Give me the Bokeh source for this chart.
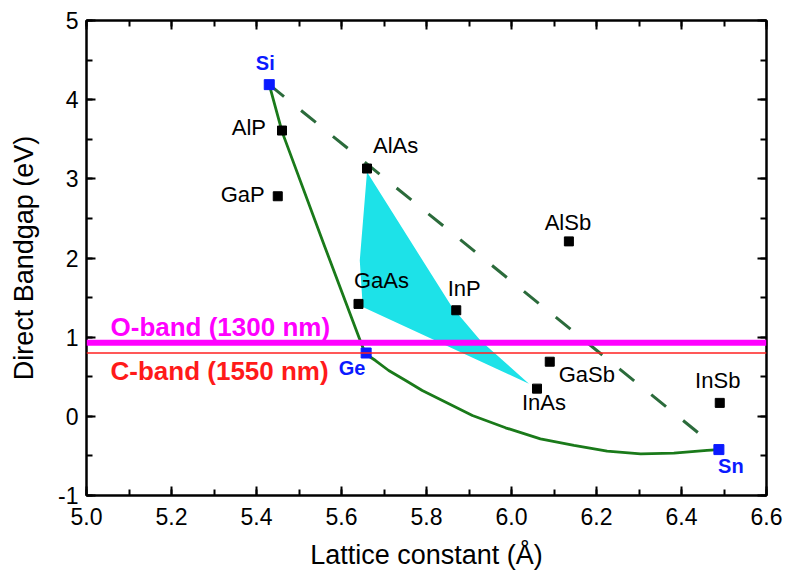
from bokeh.plotting import figure
from bokeh.models import (ColumnDataSource, Range1d, LinearAxis, Span,
                          NumeralTickFormatter, FixedTicker)
from bokeh.core.properties import value
from bokeh.embed import file_html
from bokeh.resources import INLINE

# ---------------- data ----------------
compounds = ["AlP", "GaP", "AlAs", "GaAs", "InP", "AlSb", "GaSb", "InAs", "InSb"]
lattice = [5.46, 5.45, 5.66, 5.64, 5.87, 6.135, 6.09, 6.06, 6.49]
bandgap = [3.61, 2.78, 3.13, 1.42, 1.34, 2.21, 0.69, 0.35, 0.17]

elements = ["Si", "Ge", "Sn"]
elem_lattice = [5.43, 5.658, 6.488]
elem_gap = [4.19, 0.80, -0.42]

# SiGeSn direct gap curve (Si -> Ge -> Sn)
curve_x = [5.43, 5.4605, 5.558, 5.641, 5.656, 5.680, 5.711, 5.751, 5.790, 5.829, 5.908,
           5.986, 6.068, 6.147, 6.225, 6.304, 6.382, 6.460, 6.488]
curve_y = [4.19, 3.59, 2.18, 1.00, 0.79, 0.705, 0.579, 0.453, 0.327, 0.222, 0.011,
           -0.145, -0.284, -0.368, -0.440, -0.473, -0.465, -0.43, -0.42]

# Si-Sn straight (dashed)
dash_x = [5.43, 6.488]
dash_y = [4.19, -0.42]

# shaded region (cyan)
region_x = [5.660, 5.860, 5.927, 6.041, 5.650, 5.643]
region_y = [3.085, 1.38, 0.958, 0.413, 1.38, 1.97]

o_band_ev = 0.93
c_band_ev = 0.80
o_band_label = "O-band (1300 nm)"
c_band_label = "C-band (1550 nm)"

x_ticks = [5.0, 5.2, 5.4, 5.6, 5.8, 6.0, 6.2, 6.4, 6.6]
y_ticks = [-1, 0, 1, 2, 3, 4, 5]

# ---------------- label styling (pixel offsets) ----------------
comp_style = {
    "AlP": ("right", -16, -3),
    "GaP": ("right", -13, -2),
    "AlAs": ("left", 6, -23),
    "GaAs": ("center", 23, -23),
    "InP": ("center", 8, -22),
    "AlSb": ("center", -1, -19),
    "GaSb": ("left", 9, 13),
    "InAs": ("center", 7, 14),
    "InSb": ("center", -2, -22),
}
elem_style = {
    "Si": ("center", -4, -22),
    "Ge": ("center", -14, 15),
    "Sn": ("center", 12, 16),
}

FONT = "Liberation Sans"

p = figure(width=786, height=578, x_range=Range1d(5.0, 6.6), y_range=Range1d(-1, 5),
           output_backend="svg", toolbar_location=None,
           min_border_left=86, min_border_right=20, min_border_top=20, min_border_bottom=83)

p.xgrid.visible = False
p.ygrid.visible = False
p.outline_line_color = "black"
p.outline_line_width = 2
p.background_fill_color = "white"
p.border_fill_color = "white"

# axes
def style_axis(ax, labels=True):
    ax.axis_line_width = 2
    ax.axis_line_color = "black"
    ax.major_tick_in = 9
    ax.major_tick_out = 0
    ax.minor_tick_in = 6
    ax.minor_tick_out = 0
    ax.major_tick_line_width = 2
    ax.minor_tick_line_width = 2
    ax.major_label_text_font = FONT
    ax.major_label_text_font_size = "23px"
    ax.major_label_text_color = "black"
    if not labels:
        ax.major_label_text_color = None
        ax.major_label_text_font_size = "1px"
        ax.major_label_standoff = 0

xt = FixedTicker(ticks=x_ticks, minor_ticks=[5.0 + 0.1 * i for i in range(17)])
yt = FixedTicker(ticks=y_ticks, minor_ticks=[-1 + 0.5 * i for i in range(13)])

p.xaxis.ticker = xt
p.yaxis.ticker = yt
p.xaxis.formatter = NumeralTickFormatter(format="0.0")
p.yaxis.formatter = NumeralTickFormatter(format="0")
style_axis(p.xaxis[0])
style_axis(p.yaxis[0])
p.xaxis.major_label_standoff = 12
p.yaxis.major_label_standoff = 8
p.xaxis.axis_label = "Lattice constant (Å)"
p.yaxis.axis_label = "Direct Bandgap (eV)"
for ax in (p.xaxis[0], p.yaxis[0]):
    ax.axis_label_text_font = FONT
    ax.axis_label_text_font_size = "27px"
    ax.axis_label_text_font_style = "normal"
    ax.axis_label_text_color = "black"
p.xaxis.axis_label_standoff = 12
p.yaxis.axis_label_standoff = 16

top = LinearAxis(ticker=xt)
style_axis(top, labels=False)
p.add_layout(top, "above")
right = LinearAxis(ticker=yt)
style_axis(right, labels=False)
p.add_layout(right, "right")

# shaded region
p.patch(region_x, region_y, fill_color="#1de2e8", line_color=None)

# bands
p.add_layout(Span(location=o_band_ev, dimension="width", line_color="#ff00ff", line_width=6))
p.add_layout(Span(location=c_band_ev, dimension="width", line_color="#ff2020", line_width=1.5))

# lines
p.line(dash_x, dash_y, line_color="#2b6b3b", line_width=3, line_dash="19 22")
p.line(curve_x, curve_y, line_color="#1a7a1a", line_width=2.8, line_join="round")

# markers
p.scatter(lattice, bandgap, marker="square", size=9, fill_color="black", line_color="black")
p.scatter(elem_lattice, elem_gap, marker="square", size=10, fill_color="#0a1aff", line_color="#0a1aff")

# labels
csrc = ColumnDataSource(dict(
    x=lattice, y=bandgap, t=compounds,
    align=[comp_style[c][0] for c in compounds],
    xo=[comp_style[c][1] for c in compounds],
    yo=[comp_style[c][2] for c in compounds]))
p.text(x="x", y="y", text="t", source=csrc, text_align="align", x_offset="xo", y_offset="yo",
       text_baseline="middle", text_font=value(FONT), text_font_size=value("22px"),
       text_color="black")

esrc = ColumnDataSource(dict(
    x=elem_lattice, y=elem_gap, t=elements,
    align=[elem_style[c][0] for c in elements],
    xo=[elem_style[c][1] for c in elements],
    yo=[elem_style[c][2] for c in elements]))
p.text(x="x", y="y", text="t", source=esrc, text_align="align", x_offset="xo", y_offset="yo",
       text_baseline="middle", text_font=value(FONT), text_font_size=value("20px"),
       text_font_style="bold", text_color="#0a1aff")

p.text(x=[5.0], y=[o_band_ev], text=[o_band_label], x_offset=24, y_offset=-16,
       text_baseline="middle", text_align="left", text_font=value(FONT),
       text_font_size=value("26px"), text_font_style="bold", text_color="#ff00ff")
p.text(x=[5.0], y=[c_band_ev], text=[c_band_label], x_offset=24, y_offset=18,
       text_baseline="middle", text_align="left", text_font=value(FONT),
       text_font_size=value("26px"), text_font_style="bold", text_color="#ff1a1a")

open("out.html", "w").write(file_html(p, INLINE))
